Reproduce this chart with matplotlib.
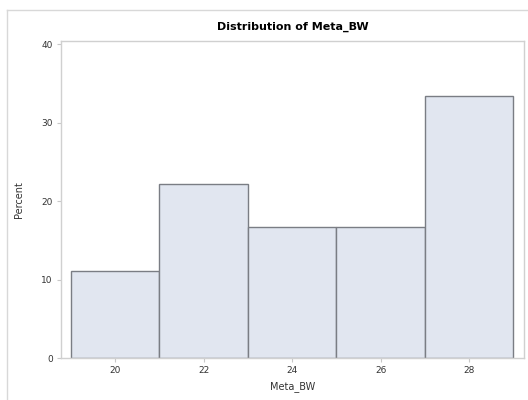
import matplotlib.pyplot as plt
from matplotlib.lines import Line2D

# Histogram data (bin midpoints and percent of observations)
midpoints = [20, 22, 24, 26, 28]
percent = [11.11, 22.22, 16.67, 16.67, 33.33]
bin_width = 2
tick_labels = ['20', '22', '24', '26', '28']

fig = plt.figure(figsize=(5.28, 4.0), dpi=100)
ax = fig.add_axes([0.1155, 0.105, 0.877, 0.7925])

ax.bar(midpoints, percent, width=bin_width, color='#e1e6f0',
       edgecolor='#7a7d84', linewidth=1.0, zorder=2)

ax.set_xlim(18.78, 29.24)
ax.set_ylim(0, 40.4)
ax.set_xticks(midpoints)
ax.set_xticklabels(tick_labels)
ax.set_yticks([0, 10, 20, 30, 40])

for side in ['left', 'right', 'top', 'bottom']:
    ax.spines[side].set_color('#d0d0d0')
    ax.spines[side].set_linewidth(1.0)

ax.tick_params(axis='both', colors='#c8c8c8', labelcolor='#333333',
               labelsize=6.5, length=3, width=0.8, pad=3)

ax.set_title('Distribution of Meta_BW', fontsize=8, weight='bold', pad=8)
ax.set_xlabel('Meta_BW', fontsize=7, color='#333333', labelpad=4)
ax.set_ylabel('Percent', fontsize=7, color='#333333', labelpad=12)

# outer graph frame (runs off the right and bottom of the image)
fig.add_artist(Line2D([7 / 528, 1.0], [1 - 10 / 400, 1 - 10 / 400],
                      transform=fig.transFigure, color='#d8d8d8', lw=1.0))
fig.add_artist(Line2D([7 / 528, 7 / 528], [0.0, 1 - 10 / 400],
                      transform=fig.transFigure, color='#d8d8d8', lw=1.0))

fig.savefig('out.png', dpi=100)
